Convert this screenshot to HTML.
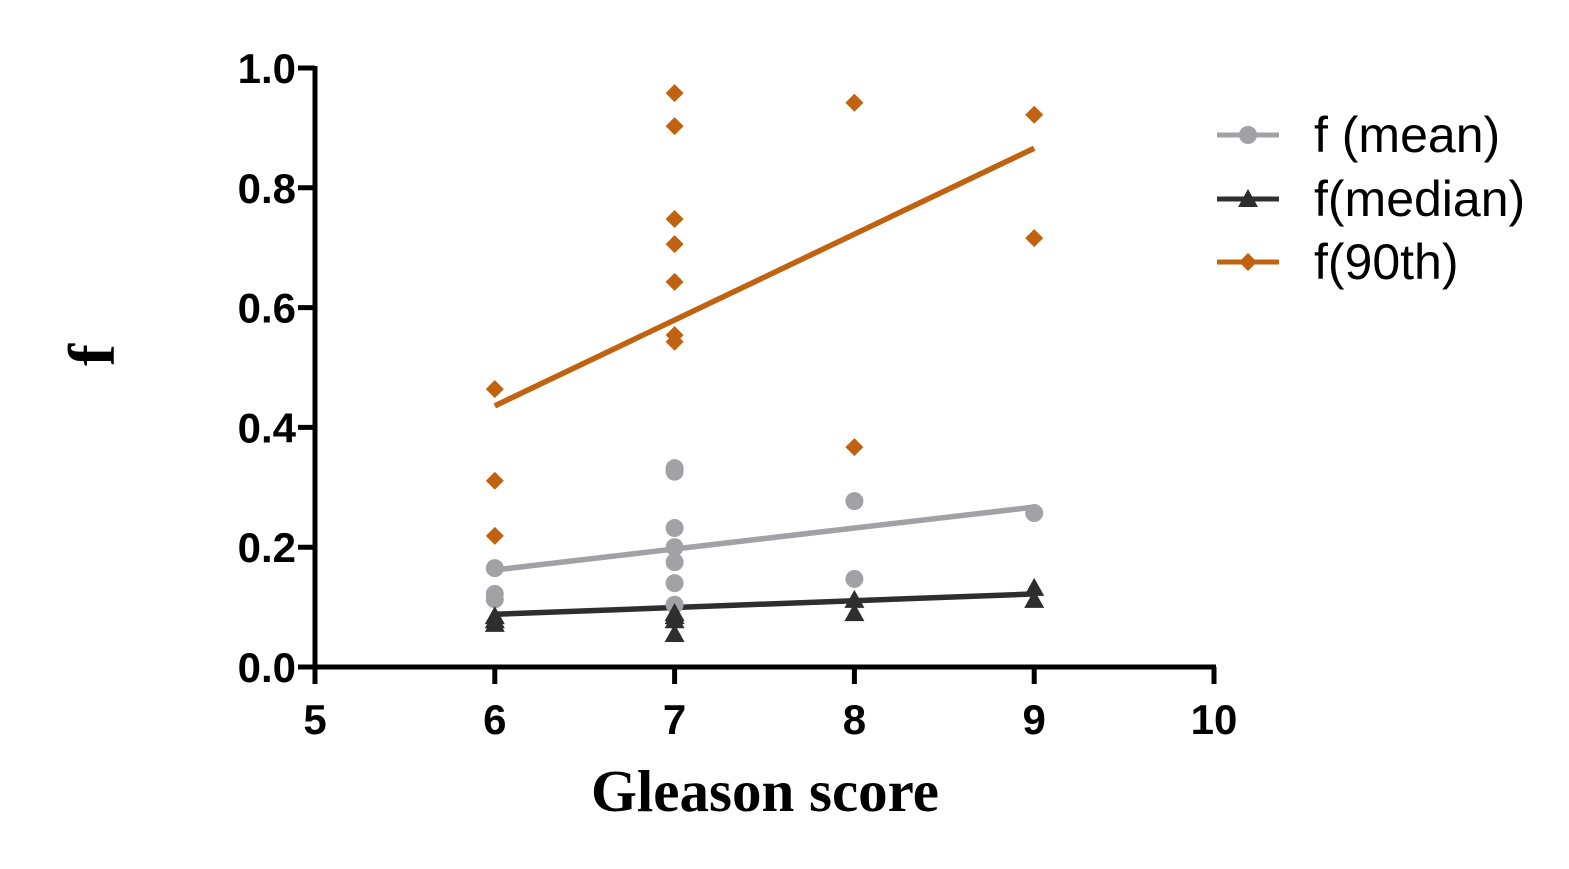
<!DOCTYPE html>
<html><head><meta charset="utf-8"><style>body{margin:0;background:#fff}svg{display:block}</style></head>
<body>
<svg id="chart" width="1569" height="869" xmlns="http://www.w3.org/2000/svg">
<g id="axes"></g>
<g id="marks"></g>
<g id="legend"></g>
<text x="765" y="811" text-anchor="middle" font-family="Liberation Serif, serif" font-weight="bold" font-size="59">Gleason score</text>
<text transform="translate(114,355) rotate(-90)" text-anchor="middle" font-family="Liberation Serif, serif" font-weight="bold" font-size="66">f</text>
</svg>
<script>
const xTicks=[5,6,7,8,9,10];
const yTicks=[0.0,0.2,0.4,0.6,0.8,1.0];
const p90X=[6,6,6,7,7,7,7,7,7,7,8,8,9,9];
const p90Y=[0.464,0.311,0.219,0.958,0.903,0.748,0.706,0.643,0.554,0.543,0.942,0.367,0.922,0.716];
const meanX=[6,6,6,7,7,7,7,7,7,7,8,8,9];
const meanY=[0.165,0.122,0.113,0.332,0.326,0.232,0.2,0.175,0.14,0.104,0.277,0.147,0.257];
const medX=[6,6,6,7,7,7,7,8,8,9,9];
const medY=[0.085,0.078,0.072,0.09,0.085,0.078,0.055,0.112,0.09,0.132,0.112];
const p90Fit=[0.436,0.866];
const meanFit=[0.162,0.267];
const medFit=[0.088,0.122];
const fitX=[6,9];
const NS='http://www.w3.org/2000/svg';
const X=v=>315+(v-5)*179.8, Y=v=>667-v*599;
function mk(t,a,p){const e=document.createElementNS(NS,t);for(const k in a)e.setAttribute(k,a[k]);p.appendChild(e);return e;}
const ax=document.getElementById('axes'),mg=document.getElementById('marks'),lg=document.getElementById('legend');
let l=mk('line',{x1:315,y1:Y(0),x2:1216,y2:Y(0),stroke:'#000','stroke-width':5},ax);


l=mk('line',{x1:315,y1:Y(1)-2,x2:315,y2:Y(0)+2,stroke:'#000','stroke-width':5},ax);


xTicks.forEach(v=>{
 const t=mk('line',{x1:X(v),y1:Y(0),x2:X(v),y2:Y(0)+17,stroke:'#000','stroke-width':5},ax);
 
 
 const s=mk('text',{x:X(v),y:734,'text-anchor':'middle','font-family':'Liberation Sans, sans-serif','font-weight':'bold','font-size':42},ax);s.textContent=v;
 
 
});
yTicks.forEach(v=>{
 const t=mk('line',{x1:298,y1:Y(v),x2:315,y2:Y(v),stroke:'#000','stroke-width':5},ax);
 
 
 const s=mk('text',{x:296,y:Y(v)+15,'text-anchor':'end','font-family':'Liberation Sans, sans-serif','font-weight':'bold','font-size':42},ax);s.textContent=v.toFixed(1);
 
 
});
const G='#a2a2a6',D='#2e2e2e',O='#c0620f';
function fit(vals,c,n){const e=mk('line',{x1:X(fitX[0]),y1:Y(vals[0]),x2:X(fitX[1]),y2:Y(vals[1]),stroke:c,'stroke-width':5.5},mg);
 
 }
function circ(cx,cy,p){return mk('circle',{cx:cx,cy:cy,r:9,fill:G},p);}
function tri(cx,cy,p){return mk('polygon',{points:`${cx},${cy-10} ${cx-10},${cy+8} ${cx+10},${cy+8}`,fill:D},p);}
function dia(cx,cy,p){return mk('polygon',{points:`${cx},${cy-9} ${cx+9},${cy} ${cx},${cy+9} ${cx-9},${cy}`,fill:O},p);}
fit(p90Fit,O,'fit-line-90th');fit(meanFit,G,'fit-line-mean');fit(medFit,D,'fit-line-median');
meanX.forEach((x,i)=>{const e=circ(X(x),Y(meanY[i]),mg);
 
 });
medX.forEach((x,i)=>{const e=tri(X(x),Y(medY[i]),mg);
 
 });
p90X.forEach((x,i)=>{const e=dia(X(x),Y(p90Y[i]),mg);
 
 });
const legs=[['f (mean)',G,circ,135],['f(median)',D,tri,199],['f(90th)',O,dia,262]];
legs.forEach(([t,c,f,y])=>{
 const g=mk('g',{},lg);
 
 
 mk('line',{x1:1217,y1:y,x2:1279,y2:y,stroke:c,'stroke-width':5},g);
 f(1248,y,g);
 const s=mk('text',{x:1314,y:y+17,'font-family':'Liberation Sans, sans-serif','font-size':50},g);s.textContent=t;
});
</script>
</body></html>
